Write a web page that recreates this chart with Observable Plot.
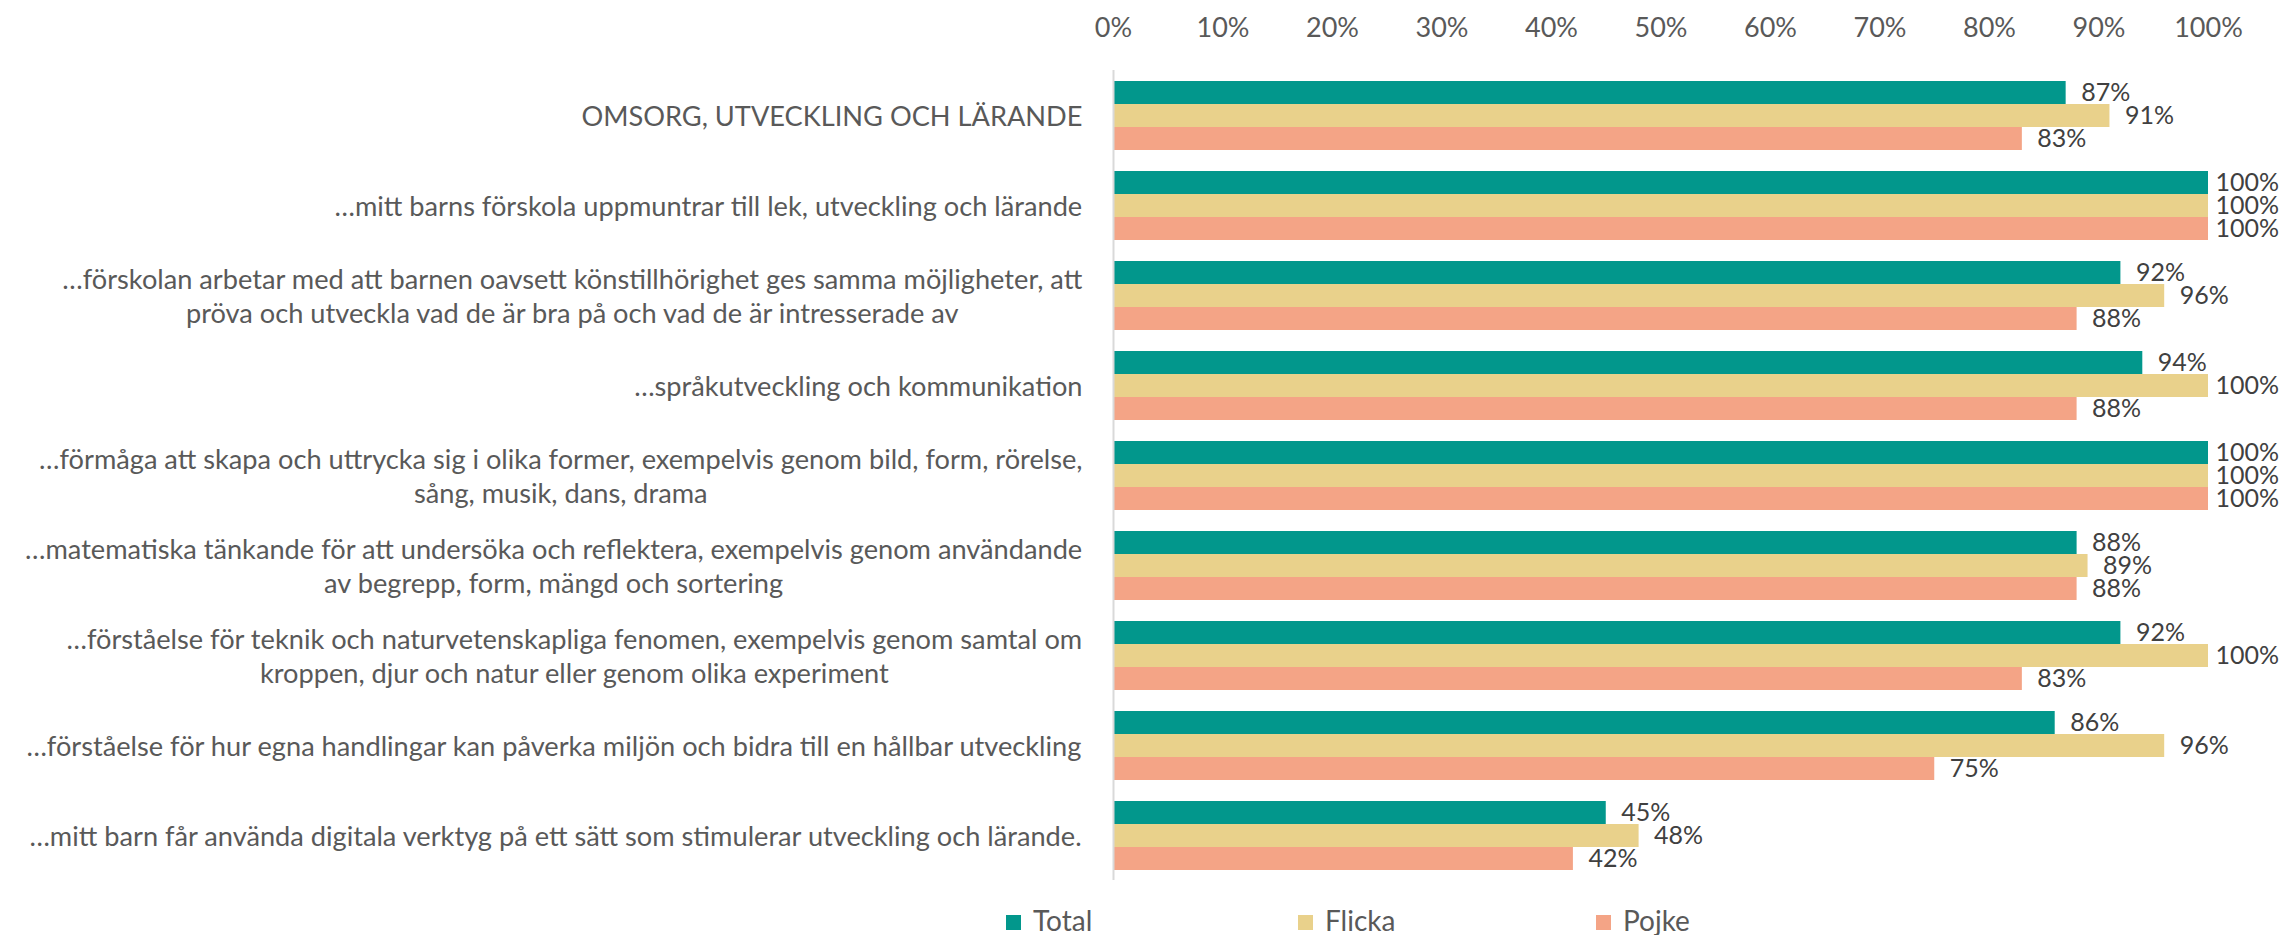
<!DOCTYPE html>
<html>
<head>
<meta charset="utf-8">
<script src="https://cdn.jsdelivr.net/npm/d3@7"></script>
<script src="https://cdn.jsdelivr.net/npm/@observablehq/plot@0.6"></script>
<style>
  html, body { margin: 0; padding: 0; background: #ffffff; }
  body { width: 2284px; height: 935px; overflow: hidden; font-family: Lato, "Open Sans", sans-serif; }
  #legend { display: flex; height: 40px; margin-top: 5px; padding-left: 1006px; box-sizing: border-box; }
  .item { display: flex; align-items: center; font-size: 28px; color: #595959; height: 40px; }
  .sw { width: 15px; height: 15px; margin-right: 12px; margin-top: 4px; }
</style>
</head>
<body>
<div id="chart"></div>
<div id="legend"></div>
<script>
const categories = [
  "OMSORG, UTVECKLING OCH LÄRANDE",
  "…mitt barns förskola uppmuntrar till lek, utveckling och lärande",
  "…förskolan arbetar med att barnen oavsett könstillhörighet ges samma möjligheter, att\npröva och utveckla vad de är bra på och vad de är intresserade av",
  "…språkutveckling och kommunikation",
  "…förmåga att skapa och uttrycka sig i olika former, exempelvis genom bild, form, rörelse,\nsång, musik, dans, drama",
  "…matematiska tänkande för att undersöka och reflektera, exempelvis genom användande\nav begrepp, form, mängd och sortering",
  "…förståelse för teknik och naturvetenskapliga fenomen, exempelvis genom samtal om\nkroppen, djur och natur eller genom olika experiment",
  "…förståelse för hur egna handlingar kan påverka miljön och bidra till en hållbar utveckling",
  "…mitt barn får använda digitala verktyg på ett sätt som stimulerar utveckling och lärande."
];
const series = ["Total", "Flicka", "Pojke"];
const total  = [0.87, 1.00, 0.92, 0.94, 1.00, 0.88, 0.92, 0.86, 0.45];
const flicka = [0.91, 1.00, 0.96, 1.00, 1.00, 0.89, 1.00, 0.96, 0.48];
const pojke  = [0.83, 1.00, 0.88, 0.88, 1.00, 0.88, 0.83, 0.75, 0.42];
const colors = ["#02978C", "#E9D18B", "#F4A486"];
const xTicks = [0, 0.1, 0.2, 0.3, 0.4, 0.5, 0.6, 0.7, 0.8, 0.9, 1.0];

const data = [];
categories.forEach((c, i) => {
  data.push({category: c, series: "Total", value: total[i]});
  data.push({category: c, series: "Flicka", value: flicka[i]});
  data.push({category: c, series: "Pojke", value: pojke[i]});
});

const FONT = "Lato, 'Open Sans', sans-serif";
const catSize = 27.2;
const canvas = document.createElement("canvas");
const ctx = canvas.getContext("2d");
ctx.font = `${catSize}px Lato`;
function blockWidth(s) {
  return Math.max(...s.split("\n").map(l => ctx.measureText(l).width));
}

const pct = d3.format(".0%");

const labelMarks = categories.map(c => Plot.text([c], {
  fy: d => d,
  text: d => d,
  frameAnchor: "left",
  textAnchor: "middle",
  lineAnchor: "middle",
  lineHeight: 1.24,
  dx: -(31 + blockWidth(c) / 2),
  fill: "#595959",
  fontSize: catSize
}));

const chart = Plot.plot({
  width: 2284,
  height: 895,
  marginLeft: 1113,
  marginRight: 76,
  marginTop: 70,
  marginBottom: 15,
  style: {fontFamily: FONT, background: "#ffffff"},
  x: {domain: [0, 1], axis: null},
  y: {domain: series, axis: null, paddingInner: 0, paddingOuter: 0.4286},
  fy: {domain: categories, axis: null, padding: 0},
  color: {domain: series, range: colors},
  marks: [
    Plot.barX(data, {x: "value", y: "series", fy: "category", fill: "series", insetLeft: 1}),
    Plot.ruleX([0], {stroke: "#D9D9D9", strokeWidth: 2}),
    Plot.text(data.filter(d => d.value < 1), {x: "value", y: "series", fy: "category", text: d => pct(d.value),
      textAnchor: "start", dx: 15, fill: "#404040", fontSize: 25}),
    Plot.text(data.filter(d => d.value >= 1), {x: "value", y: "series", fy: "category", text: d => pct(d.value),
      textAnchor: "start", dx: 7, fill: "#404040", fontSize: 25}),
    Plot.axisX({anchor: "top", ticks: xTicks, tickFormat: pct, tickSize: 0, tickPadding: 34,
      fontSize: 27, fill: "#595959", label: null}),
    ...labelMarks
  ]
});
document.getElementById("chart").appendChild(chart);

const legend = document.getElementById("legend");
const itemWidths = [292, 298, 200];
series.forEach((s, i) => {
  const it = document.createElement("div");
  it.className = "item";
  it.style.width = itemWidths[i] + "px";
  const sw = document.createElement("span");
  sw.className = "sw";
  sw.style.background = colors[i];
  const tx = document.createElement("span");
  tx.textContent = s;
  it.appendChild(sw);
  it.appendChild(tx);
  legend.appendChild(it);
});
</script>
</body>
</html>
